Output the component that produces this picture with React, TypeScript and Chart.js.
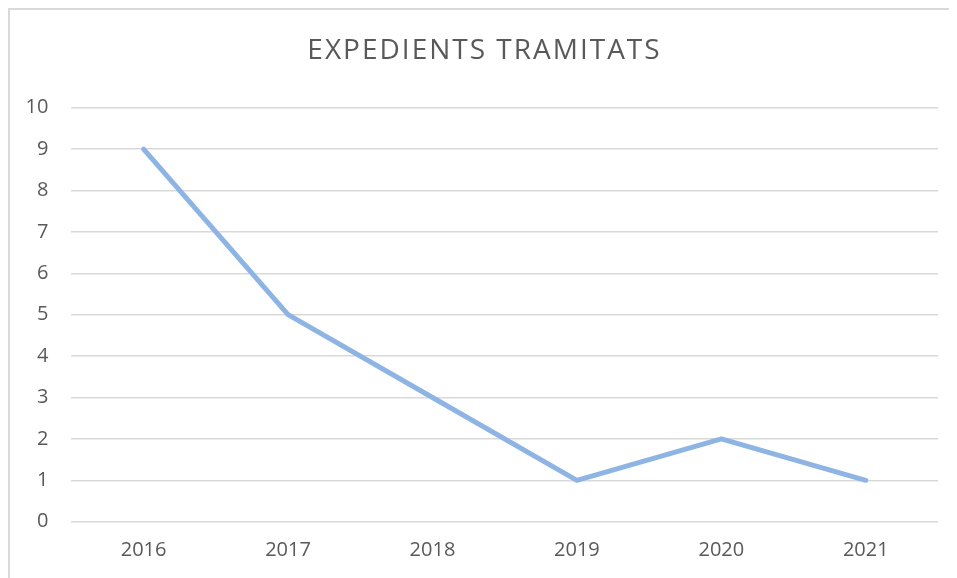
import React, { useEffect, useRef } from "react";
import { Chart, registerables } from "chart.js";

Chart.register(...registerables);

const TITLE = "EXPEDIENTS TRAMITATS";
const YEARS = ["2016", "2017", "2018", "2019", "2020", "2021"];
const VALUES = [9, 5, 3, 1, 2, 1];
const Y_MIN = 0;
const Y_MAX = 10;
const Y_STEP = 1;

const FONT = "'Open Sans', 'Liberation Sans', sans-serif";

const titlePlugin = {
  id: "excelTitle",
  afterDraw(chart: any) {
    const ctx = chart.ctx as CanvasRenderingContext2D;
    ctx.save();
    ctx.font = `28px ${FONT}`;
    (ctx as any).letterSpacing = "2px";
    ctx.fillStyle = "#595959";
    ctx.textAlign = "center";
    ctx.textBaseline = "middle";
    const cx = (chart.width - 8) / 2;
    ctx.fillText(TITLE, cx + 5, 41);
    ctx.restore();
  },
};

export default function App() {
  const ref = useRef<HTMLCanvasElement | null>(null);
  useEffect(() => {
    document.documentElement.style.overflow = "hidden";
    document.body.style.overflow = "hidden";
    if (!ref.current) return;
    const chart = new Chart(ref.current, {
      type: "line",
      data: {
        labels: YEARS,
        datasets: [
          {
            data: VALUES,
            borderColor: "#8EB4E3",
            borderWidth: 5,
            pointRadius: 0,
            tension: 0,
            fill: false,
            borderJoinStyle: "round",
            borderCapStyle: "round",
          },
        ],
      },
      options: {
        animation: false,
        responsive: false,
        maintainAspectRatio: false,
        layout: { padding: { left: 0, right: 19, top: 97.7, bottom: 0 } },
        plugins: {
          legend: { display: false },
          tooltip: { enabled: false },
          title: { display: false },
        },
        scales: {
          x: {
            offset: true,
            grid: { display: false, drawTicks: false },
            border: { display: false },
            ticks: {
              color: "#595959",
              font: { family: FONT, size: 20 },
              padding: 17,
              maxRotation: 0,
            },
            afterFit: (s: any) => {
              s.height = 56.3;
            },
          },
          y: {
            min: Y_MIN,
            max: Y_MAX,
            grid: { color: "#d9d9d9", lineWidth: 1.5, drawTicks: false },
            border: { display: false },
            ticks: {
              stepSize: Y_STEP,
              color: "#595959",
              font: { family: FONT, size: 20 },
              padding: 23,
            },
            afterFit: (s: any) => {
              s.width = 61.4;
            },
          },
        },
      },
      plugins: [titlePlugin],
    });
    return () => chart.destroy();
  }, []);
  return (
    <div
      style={{
        width: 947,
        height: 568,
        borderTop: "2px solid #d9d9d9",
        borderLeft: "2px solid #d9d9d9",
        background: "#fff",
        overflow: "hidden",
      }}
    >
      <canvas ref={ref} width={947} height={568} style={{ display: "block" }} />
    </div>
  );
}
